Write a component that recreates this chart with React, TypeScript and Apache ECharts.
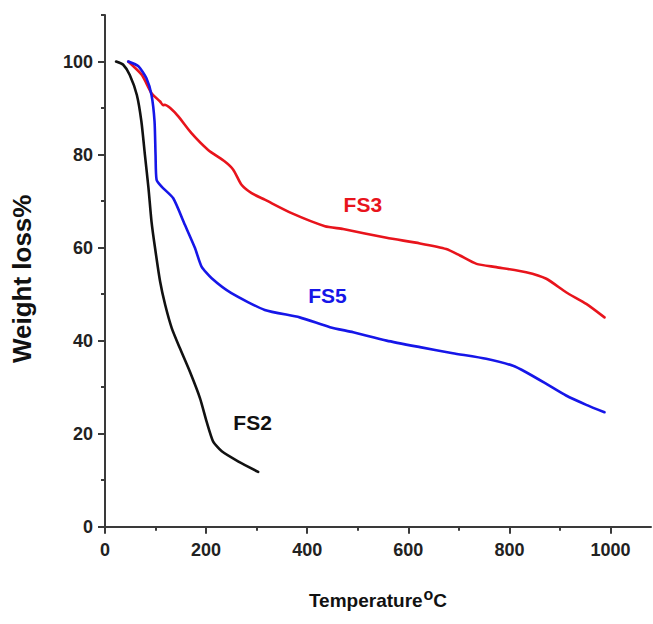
import React, { useEffect, useRef } from "react";
import * as echarts from "echarts";

const fs2Temp = [22, 36, 49, 63, 72, 79, 86, 92, 99, 109, 119, 132, 148, 168, 188, 201, 214, 231, 264, 303];
const fs2Weight = [100, 99.3, 97.1, 92.8, 87.1, 79.9, 72.8, 65.6, 59.9, 52.7, 47.7, 42.7, 38.4, 33.3, 27.6, 22.6, 18.3, 16.2, 14.0, 11.8];

const fs3Temp = [46, 73, 92, 109, 115, 118, 129, 145, 171, 204, 237, 254, 270, 290, 316, 369, 435, 471, 557, 623, 675, 702, 735, 774, 833, 873, 912, 952, 988];
const fs3Weight = [100, 97.1, 93.2, 91.4, 90.6, 90.7, 90, 88.2, 84.6, 81.0, 78.5, 76.7, 73.5, 71.7, 70.3, 67.4, 64.6, 64, 62.1, 60.9, 59.7, 58.3, 56.5, 55.8, 54.7, 53.3, 50.4, 47.9, 45];

const fs5Temp = [46, 66, 82, 92, 98, 100, 102, 112, 135, 158, 178, 191, 211, 250, 316, 385, 445, 491, 557, 623, 688, 754, 807, 833, 873, 912, 952, 988];
const fs5Weight = [100, 99, 96.4, 92.8, 87.1, 79.9, 74.6, 73.1, 70.6, 64.9, 59.9, 55.9, 53.4, 50.2, 46.6, 45, 42.9, 41.8, 40, 38.6, 37.3, 36.1, 34.6, 33.2, 30.7, 28.2, 26.2, 24.6];

const xMajorTicks = [0, 200, 400, 600, 800, 1000];
const xMinorTicks = [100, 300, 500, 700, 900];
const yMajorTicks = [0, 20, 40, 60, 80, 100];
const yMinorTicks = [10, 30, 50, 70, 90, 110];

// label anchor positions in data units
const labelFS2 = [292, 22.5];
const labelFS3 = [510, 69.2];
const labelFS5 = [440, 49.8];

const FONT = "'Liberation Sans', Arial, sans-serif";
const AXIS_COLOR = "#3a3a3a";

const zip = (t: number[], w: number[]) => t.map((v, i) => [v, w[i]]);

export default function App() {
  const ref = useRef<HTMLDivElement>(null);
  useEffect(() => {
    if (!ref.current) return;
    const chart = echarts.init(ref.current, null, { renderer: "svg" });
    const mkLabel = (coord: number[], name: string, color: string) => ({
      symbol: "circle",
      symbolSize: 0,
      silent: true,
      label: {
        show: true,
        position: "inside",
        formatter: name,
        color,
        fontSize: 21,
        fontWeight: "bold",
        fontFamily: FONT,
      },
      data: [{ coord }],
    });
    const lineSeries = (name: string, data: number[][], color: string, lab: number[]) => ({
      name,
      type: "line",
      data,
      showSymbol: false,
      symbol: "none",
      smooth: 0.2,
      lineStyle: { color, width: 2.6, join: "round", cap: "round" },
      itemStyle: { color },
      markPoint: mkLabel(lab, name, color),
      z: 3,
    });
    chart.setOption({
      animation: false,
      backgroundColor: "#ffffff",
      grid: [
        { left: 105, top: 15, width: 546, height: 511.7, containLabel: false },
      ],
      xAxis: [
        {
          type: "value",
          min: 0,
          max: 1080,
          gridIndex: 0,
          name: "Temperature{sup|o}C",
          nameLocation: "middle",
          nameGap: 60,
          nameTextStyle: {
            fontSize: 19,
            fontWeight: "bold",
            fontFamily: FONT,
            color: "#111",
            rich: {
              sup: {
                fontSize: 16,
                fontWeight: "bold",
                fontFamily: FONT,
                color: "#111",
                verticalAlign: "top",
                padding: [0, 0, 12, 1],
              },
            },
          },
          splitLine: { show: false },
          axisLine: { show: true, lineStyle: { color: AXIS_COLOR, width: 2 } },
          axisTick: {
            show: true,
            inside: false,
            length: 7,
            customValues: xMajorTicks,
            lineStyle: { color: AXIS_COLOR, width: 2 },
          },
          axisLabel: {
            customValues: xMajorTicks,
            formatter: (v: number) => String(v),
            margin: 14,
            fontSize: 18,
            fontWeight: "bold",
            fontFamily: FONT,
            color: "#222",
          },
        },
        {
          type: "value",
          min: 0,
          max: 1080,
          gridIndex: 0,
          position: "bottom",
          splitLine: { show: false },
          axisLine: { show: false },
          axisTick: {
            show: true,
            inside: false,
            length: 4,
            customValues: xMinorTicks,
            lineStyle: { color: AXIS_COLOR, width: 2 },
          },
          axisLabel: { show: false },
        },
      ],
      yAxis: [
        {
          type: "value",
          min: 0,
          max: 110,
          gridIndex: 0,
          name: "Weight loss%",
          nameLocation: "middle",
          nameGap: 70,
          nameTextStyle: {
            fontSize: 26,
            fontWeight: "bold",
            fontFamily: FONT,
            color: "#111",
            padding: [0, 16, 0, 0],
          },
          splitLine: { show: false },
          axisLine: { show: true, lineStyle: { color: AXIS_COLOR, width: 2 } },
          axisTick: {
            show: true,
            inside: false,
            length: 7,
            customValues: yMajorTicks,
            lineStyle: { color: AXIS_COLOR, width: 2 },
          },
          axisLabel: {
            customValues: yMajorTicks,
            formatter: (v: number) => String(v),
            margin: 12,
            fontSize: 18,
            fontWeight: "bold",
            fontFamily: FONT,
            color: "#222",
          },
        },
        {
          type: "value",
          min: 0,
          max: 110,
          gridIndex: 0,
          position: "left",
          splitLine: { show: false },
          axisLine: { show: false },
          axisTick: {
            show: true,
            inside: false,
            length: 4,
            customValues: yMinorTicks,
            lineStyle: { color: AXIS_COLOR, width: 2 },
          },
          axisLabel: { show: false },
        },
      ],
      series: [
        lineSeries("FS2", zip(fs2Temp, fs2Weight), "#111111", labelFS2),
        lineSeries("FS3", zip(fs3Temp, fs3Weight), "#e8141c", labelFS3),
        lineSeries("FS5", zip(fs5Temp, fs5Weight), "#1616e8", labelFS5),
      ],
    });
    return () => chart.dispose();
  }, []);
  return (
    <div
      ref={ref}
      style={{ position: "fixed", left: 0, top: 0, width: 653, height: 624, background: "#fff" }}
    />
  );
}
